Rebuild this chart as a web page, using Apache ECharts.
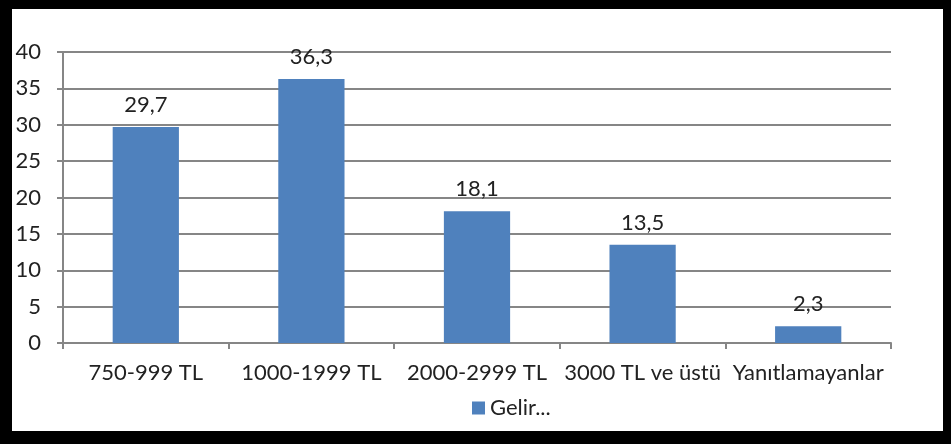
<!DOCTYPE html>
<html>
<head>
<meta charset="utf-8">
<script src="https://cdn.jsdelivr.net/npm/echarts@6/dist/echarts.min.js"></script>
<style>
    html, body { margin: 0; padding: 0; background: #000; }
    #frame { position: absolute; left: 12px; top: 9px; width: 931px; height: 422px; background: #fff; }
    #chart { width: 931px; height: 422px; }
</style>
</head>
<body>
<div id="frame"><div id="chart"></div></div>
<script>
    // gelir grupları
    const categories = ['750-999 TL', '1000-1999 TL', '2000-2999 TL', '3000 TL ve üstü', 'Yanıtlamayanlar'];
    const values = [29.7, 36.3, 18.1, 13.5, 2.3];
    const seriesName = 'Gelir...';

    const font = 'Lato, "Open Sans", sans-serif';
    let chart = echarts.init(document.getElementById('chart'));
    chart.setOption({
        animation: false,
        textStyle: {fontFamily: font},
        legend: {
            data: [seriesName],
            icon: 'rect',
            left: 455,
            top: 383,
            itemWidth: 13,
            itemHeight: 13,
            itemGap: 6,
            textStyle: {fontSize: 22, color: '#222', fontFamily: font}
        },
        grid: {left: 51, right: 52, top: 43, bottom: 88},
        xAxis: {
            type: 'category',
            data: categories,
            axisLine: {lineStyle: {color: '#868686', width: 2}},
            axisTick: {show: true, length: 6, lineStyle: {color: '#868686', width: 2}},
            axisLabel: {fontSize: 22, color: '#222', margin: 19, interval: 0, fontFamily: font}
        },
        yAxis: {
            type: 'value',
            min: 0,
            max: 40,
            interval: 5,
            axisLine: {show: true, lineStyle: {color: '#868686', width: 2}},
            axisTick: {show: true, length: 6, lineStyle: {color: '#868686', width: 2}},
            splitLine: {lineStyle: {color: '#868686', width: 2}},
            axisLabel: {fontSize: 22, color: '#222', margin: 22, fontFamily: font}
        },
        series: [{
            name: seriesName,
            type: 'bar',
            data: values,
            barWidth: '40%',
            itemStyle: {color: '#4F81BD'},
            label: {
                show: true,
                position: 'top',
                distance: 11,
                fontSize: 22,
                color: '#222',
                fontFamily: font,
                formatter: p => String(p.value).replace('.', ',')
            }
        }]
    });
</script>
</body>
</html>
